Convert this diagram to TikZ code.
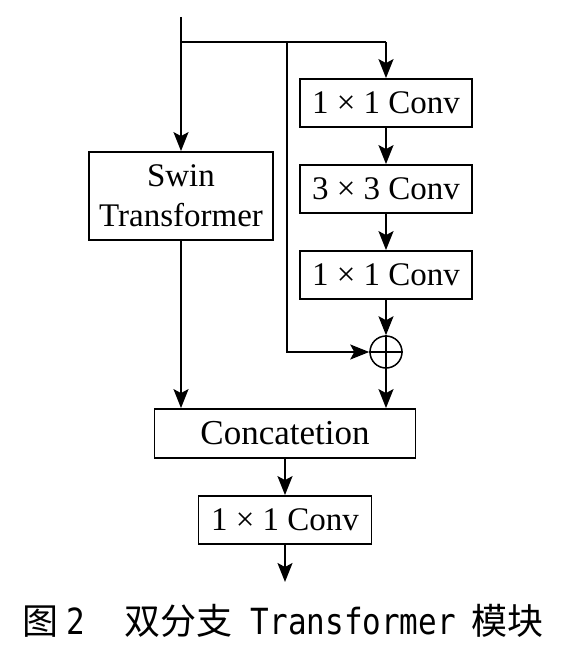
\documentclass[tikz,border=0pt]{standalone}
\usepackage{fontspec}
\setmainfont{Liberation Serif}
\newfontfamily\cjk{Noto Sans CJK SC}
\newfontfamily\mono[FakeStretch=0.86]{DejaVu Sans Mono}
\usetikzlibrary{arrows.meta}
\begin{document}
\begin{tikzpicture}[x=1pt,y=-1pt,
  box/.style={draw,line width=1.8pt,minimum height=48pt,inner sep=0pt,align=center,font=\fontsize{33}{40}\selectfont},
  arr/.style={line width=1.8pt,-{Stealth[length=19pt,width=15pt,inset=4pt]}},
  ln/.style={line width=1.8pt}]
\useasboundingbox[fill=white] (0,0) rectangle (581,661);
\coordinate (top) at (181,17);
\coordinate (split) at (181,42);
\coordinate (br) at (287,42);
\coordinate (rt) at (386,42);
\node[box,minimum width=172pt] (c1) at (386,103) {1 × 1 Conv};
\node[box,minimum width=172pt] (c3) at (386,189) {3 × 3 Conv};
\node[box,minimum width=172pt] (c2) at (386,275) {1 × 1 Conv};
\node[box,minimum width=184pt,minimum height=88pt] (swin) at (181,196) {Swin\\Transformer};
\node[draw,circle,line width=1.5pt,minimum size=32pt,inner sep=0pt] (add) at (386,352) {};
\draw[line width=1.5pt] (add.north) -- (add.south) (add.west) -- (add.east);
\node[box,minimum width=261pt,minimum height=49pt,font=\fontsize{35}{40}\selectfont] (cat) at (285,433.5) {Concatetion};
\node[box,minimum width=173pt] (fc) at (285,520) {1 × 1 Conv};
\coordinate (out) at (285,582);
\coordinate (bend) at (287,352);
\draw[ln] (top) -- (split) -- (rt);
\draw[arr] (split) -- (swin.north);
\draw[arr] (rt) -- (c1.north);
\draw[arr] (c1) -- (c3);
\draw[arr] (c3) -- (c2);
\draw[arr] (c2) -- (add.north);
\draw[arr] (br) -- (bend) -- (add.west);
\draw[arr] (swin.south) -- (swin.south |- cat.north);
\draw[arr] (add.south) -- (add.south |- cat.north);
\draw[arr] (cat) -- (fc);
\draw[arr] (fc) -- (out);
\node[anchor=base west,inner sep=0pt,font=\fontsize{36}{40}\selectfont] (cap) at (22,634)
  {\cjk 图\hspace{8pt}{\mono 2}\hspace{40pt}双分支\hspace{18pt}{\mono Transformer}\hspace{16pt}模块};
\end{tikzpicture}
\end{document}
